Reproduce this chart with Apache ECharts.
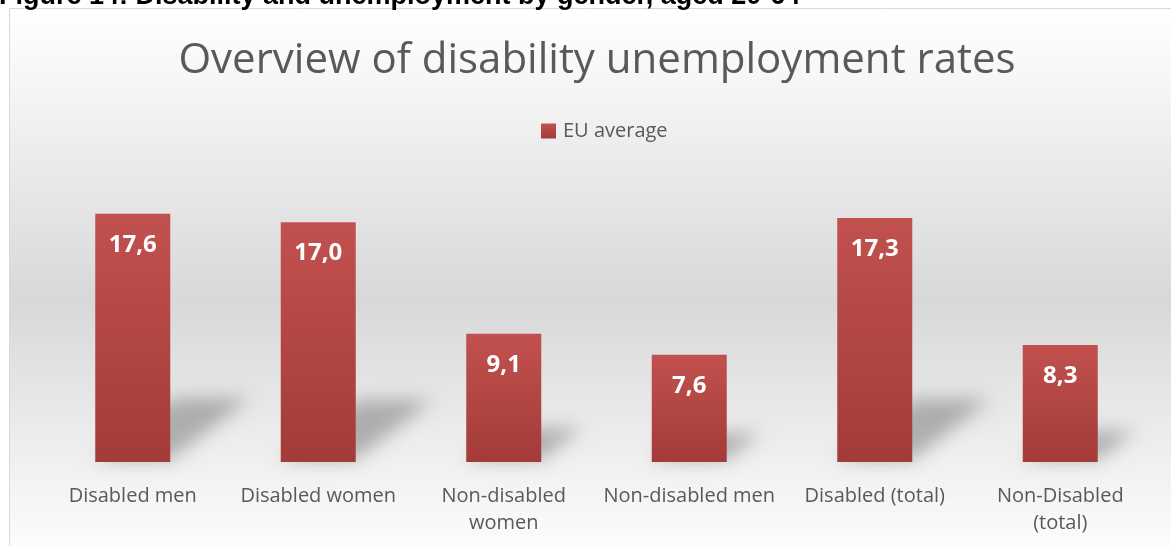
<!DOCTYPE html>
<html>
<head>
<meta charset="utf-8">
<script src="https://cdn.jsdelivr.net/npm/echarts@6/dist/echarts.min.js"></script>
<style>
  html, body { margin: 0; padding: 0; background: #ffffff; }
  #chart { width: 1171px; height: 546px; }
</style>
</head>
<body>
<div id="chart"></div>
<script>
// Unemployment rates (%) by group, EU average
var categories = [
  'Disabled men',
  'Disabled women',
  'Non-disabled\nwomen',
  'Non-disabled men',
  'Disabled (total)',
  'Non-Disabled\n(total)'
];
var euAverage = [17.6, 17.0, 9.1, 7.6, 17.3, 8.3];

var captionText = 'Figure 14: Disability and unemployment by gender, aged 20-64';
var titleText = 'Overview of disability unemployment rates';
var seriesName = 'EU average';

var BAR_WIDTH = 75;
var TEXT_GREY = '#595959';
var FONT = '"Open Sans", "DejaVu Sans", sans-serif';

function fmtComma(v) {
  return v.toFixed(1).replace('.', ',');
}

var chart = echarts.init(document.getElementById('chart'), null, { renderer: 'canvas' });

// Slanted drop shadow behind each bar, drawn as an offset canvas shadow
// so that only the blurred shape shows.
function renderShadow(params, api) {
  var idx = api.value(0);
  var val = api.value(1);
  var base = api.coord([idx, 0]);
  var top = api.coord([idx, val]);
  var h = base[1] - top[1];
  var half = BAR_WIDTH / 2;
  var dx = h * 0.32, dy = h * 0.25;
  var off = 5000;
  var x0 = base[0] - half - off, x1 = base[0] + half - off, yb = base[1] - 2;
  return {
    type: 'polygon',
    silent: true,
    shape: {
      points: [
        [x0, yb], [x1, yb], [x1 + dx, yb - dy], [x0 + dx, yb - dy]
      ]
    },
    style: {
      fill: '#000',
      shadowBlur: 18,
      shadowColor: 'rgba(0,0,0,0.26)',
      shadowOffsetX: off,
      shadowOffsetY: 0
    }
  };
}

var option = {
  animation: false,
  backgroundColor: '#ffffff',
  color: ['#c0504d'],
  graphic: [
    {
      type: 'rect',
      z: -10,
      silent: true,
      shape: { x: 9.5, y: 8.5, width: 1200, height: 560 },
      style: {
        fill: new echarts.graphic.LinearGradient(0, 0, 0, 1, [
          { offset: 0, color: '#ffffff' },
          { offset: 0.12, color: '#f7f7f7' },
          { offset: 0.52, color: '#d8d8d8' },
          { offset: 0.82, color: '#f1f1f1' },
          { offset: 1, color: '#ffffff' }
        ]),
        stroke: '#d9d9d9',
        lineWidth: 1
      }
    },
    {
      type: 'text',
      z: 10,
      silent: true,
      x: -1,
      y: -3.5,
      style: {
        text: captionText,
        fill: '#000000',
        font: 'bold 27px "Liberation Sans", Arial, sans-serif',
        textAlign: 'left',
        textVerticalAlign: 'middle'
      }
    },
    {
      type: 'text',
      z: 10,
      silent: true,
      x: 597,
      y: 61,
      style: {
        text: titleText,
        fill: TEXT_GREY,
        font: '42px ' + FONT,
        textAlign: 'center',
        textVerticalAlign: 'middle'
      }
    }
  ],
  legend: {
    data: [seriesName],
    left: 536,
    top: 116,
    icon: 'rect',
    itemWidth: 15,
    itemHeight: 15,
    selectedMode: false,
    textStyle: {
      color: TEXT_GREY,
      fontSize: 20,
      fontFamily: FONT,
      padding: [0, 0, 0, 2]
    }
  },
  grid: {
    left: 40,
    right: 18,
    top: 180,
    bottom: 84,
    containLabel: false
  },
  xAxis: {
    type: 'category',
    data: categories,
    axisLine: { show: false },
    axisTick: { show: false },
    splitLine: { show: false },
    axisLabel: {
      interval: 0,
      margin: 21,
      color: TEXT_GREY,
      fontSize: 20,
      lineHeight: 27,
      fontFamily: FONT
    }
  },
  yAxis: {
    type: 'value',
    min: 0,
    max: 20,
    show: false,
    splitLine: { show: false }
  },
  series: [
    {
      type: 'custom',
      name: 'shadow',
      z: 1,
      silent: true,
      renderItem: renderShadow,
      data: euAverage.map(function (v, i) { return [i, v]; }),
      tooltip: { show: false }
    },
    {
      type: 'bar',
      name: seriesName,
      z: 3,
      data: euAverage,
      barWidth: BAR_WIDTH,
      itemStyle: {
        color: new echarts.graphic.LinearGradient(0, 0, 0, 1, [
          { offset: 0, color: '#c1514e' },
          { offset: 1, color: '#a33b39' }
        ])
      },
      label: {
        show: true,
        position: 'insideTop',
        distance: 19,
        color: '#ffffff',
        fontSize: 24,
        fontWeight: 'bold',
        fontFamily: FONT,
        formatter: function (p) { return fmtComma(p.value); }
      }
    }
  ]
};

chart.setOption(option);
</script>
</body>
</html>
